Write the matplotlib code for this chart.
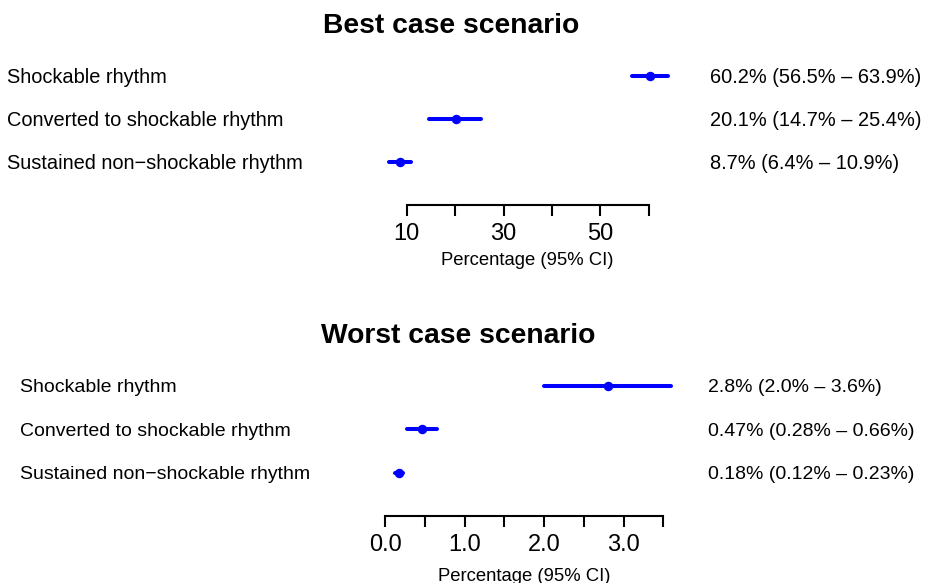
import numpy as np
import matplotlib.pyplot as plt

plt.rcParams['font.family'] = ['Liberation Sans', 'DejaVu Sans']

labels = ["Shockable rhythm", "Converted to shockable rhythm",
          "Sustained non\u2212shockable rhythm"]

best_est = [60.2, 20.1, 8.7]
best_lo = [56.5, 14.7, 6.4]
best_hi = [63.9, 25.4, 10.9]
best_txt = ["60.2% (56.5% \u2013 63.9%)", "20.1% (14.7% \u2013 25.4%)",
            "8.7% (6.4% \u2013 10.9%)"]
best_ticks = [10, 20, 30, 40, 50, 60]
best_ticklabels = ["10", "", "30", "", "50", ""]

worst_est = [2.8, 0.47, 0.18]
worst_lo = [2.0, 0.28, 0.12]
worst_hi = [3.6, 0.66, 0.23]
worst_txt = ["2.8% (2.0% \u2013 3.6%)", "0.47% (0.28% \u2013 0.66%)",
             "0.18% (0.12% \u2013 0.23%)"]
worst_ticks = [0.0, 0.5, 1.0, 1.5, 2.0, 2.5, 3.0, 3.5]
worst_ticklabels = ["0.0", "", "1.0", "", "2.0", "", "3.0", ""]

W, H = 927, 583
fig = plt.figure(figsize=(W / 100, H / 100), dpi=100)
blue = '#0000ff'


def panel(left_px, right_px, axis_px, unit_px, est, lo, hi, txt, ticks,
          ticklabels, title, title_xy, lab_x, txt_x, fs, labelpad):
    ymax = 3.5
    ax = fig.add_axes([left_px / W, 1 - axis_px / H,
                       (right_px - left_px) / W, ymax * unit_px / H])
    ax.set_xlim(ticks[0], ticks[-1])
    ax.set_ylim(0, ymax)
    rows = np.arange(len(est), 0, -1)
    ax.hlines(rows, lo, hi, color=blue, lw=2.9, capstyle='round',
              clip_on=False)
    ax.plot(est, rows, 'o', color=blue, ms=5.8, clip_on=False)
    for sp in ['top', 'left', 'right']:
        ax.spines[sp].set_visible(False)
    ax.spines['bottom'].set_linewidth(1.5)
    ax.set_yticks([])
    ax.set_xticks(ticks)
    ax.set_xticklabels(ticklabels)
    ax.tick_params(axis='x', length=7.7, width=1.5, pad=5.5, labelsize=17)
    ax.set_xlabel("Percentage (95% CI)", fontsize=13.3, labelpad=labelpad)
    for r, name, t in zip(rows, labels, txt):
        ax.annotate(name, (lab_x / W, r), xycoords=('figure fraction', 'data'),
                    ha='left', va='center_baseline', fontsize=fs)
        ax.annotate(t, (txt_x / W, r), xycoords=('figure fraction', 'data'),
                    ha='left', va='center_baseline', fontsize=fs)
    fig.text(title_xy[0] / W, 1 - title_xy[1] / H, title, ha='center',
             va='baseline', fontsize=20.3, fontweight='bold')
    return ax


panel(406.7, 648.7, 204.5, 42.9, best_est, best_lo, best_hi, best_txt,
      best_ticks, best_ticklabels, "Best case scenario", (451, 32.7),
      7, 709.5, 14.4, 5.0)
panel(385, 663.3, 516, 43.4, worst_est, worst_lo, worst_hi, worst_txt,
      worst_ticks, worst_ticklabels, "Worst case scenario", (458.5, 343.3),
      19.5, 708.5, 14.0, 8.5)

fig.savefig("out.png", dpi=100)
